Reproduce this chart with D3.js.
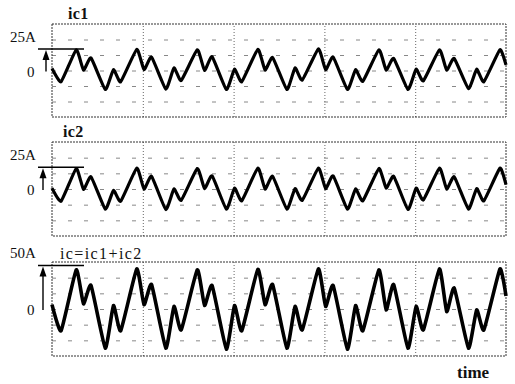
<!DOCTYPE html>
<html>
<head>
<meta charset="utf-8">
<script src="https://cdn.jsdelivr.net/npm/d3@7"></script>
<style>
  body { margin: 0; background: #fff; }
  svg { display: block; }
</style>
</head>
<body>
<svg id="chart" width="515" height="384"></svg>
<script>
// waveform vertices; time in ms (20 ms per cycle, 30 ms/div)
const tPts = [0, 3,
  8, 10.4, 12.9, 17.6, 20.3, 22.7,
  28, 30.4, 32.9, 37.6, 40.3, 42.7,
  48, 50.4, 52.9, 57.6, 60.3, 62.7,
  68, 70.4, 72.9, 77.6, 80.3, 82.7,
  88, 90.4, 92.9, 97.6, 100.3, 102.7,
  108, 110.4, 112.9, 117.6, 120.3, 122.7,
  128, 130.4, 132.9, 137.6, 140.3, 142.7,
  148, 150];

// currents in A
const ic1 = [2.5, -13,
  24, 0.5, 14.5, -22, 1, -13,
  24.5, 1, 15.5, -21.5, 3, -11.5,
  24, 0, 16, -22, 1.5, -13,
  24.5, 0.5, 15, -22, 3, -11,
  25, 1, 15.5, -22, 1, -12.5,
  24, 0.5, 14, -22, 1.5, -12,
  24, 0.5, 14, -21, 1.5, -13,
  24, 6.5];

const ic2 = [1, -14,
  23.5, -0.5, 14, -23, -1.5, -14,
  24, 0, 14.5, -23.5, 0, -13,
  23.5, 0.5, 15, -23, 1, -13.5,
  24, 0, 14.5, -23, 0.5, -13,
  24, 0.5, 15, -23, 0, -13.5,
  23.5, 1, 14.5, -23.5, 1, -12.5,
  24, 0, 14, -23, 0.5, -13.5,
  24, 5];

const ic = [5, -25,
  45, 6, 27, -45, 4, -25,
  46, 5, 28, -45, 3, -24,
  45, 4, 27, -46, 4, -25,
  45.5, 5, 28, -45, 3, -24,
  46, 3, 27, -46, 4, -25,
  45, -1, 28, -45, 3, -24,
  46, -3, 24, -45, -1, -24,
  46, 15];

const panelNames = ['ic1', 'ic2', 'ic=ic1+ic2'];
const markValues = [25, 25, 50];
const markLabels = ['25A', '25A', '50A'];
const timeGrid = [30, 60, 90, 120];
const ampGrid = [-36, -18, 0, 18, 36];

const serif = '"Liberation Serif"';
const svg = d3.select('#chart');
const left = 52, right = 506;
const panels = [
  { top: 24, height: 93, data: ic1 },
  { top: 142, height: 94, data: ic2 },
  { top: 262, height: 94, data: ic }
];

const x = d3.scaleLinear().domain([0, 150]).range([left, right]);

panels.forEach((p, i) => {
  const y = d3.scaleLinear().domain([-54, 54]).range([p.top + p.height, p.top]);
  const g = svg.append('g');

  // vertical grid
  g.append('g')
    .attr('transform', `translate(0,${p.top + p.height})`)
    .call(d3.axisBottom(x).tickValues(timeGrid).tickSize(-p.height).tickFormat(''))
    .call(a => a.select('.domain').remove())
    .selectAll('line')
    .attr('stroke', '#666')
    .attr('stroke-dasharray', '1,2');

  // horizontal grid
  g.append('g')
    .attr('transform', `translate(${left},0)`)
    .call(d3.axisLeft(y).tickValues(ampGrid).tickSize(-(right - left)).tickFormat(''))
    .call(a => a.select('.domain').remove())
    .selectAll('line')
    .attr('stroke', '#888')
    .attr('stroke-dasharray', '4,12');

  // frame
  g.append('rect')
    .attr('x', left).attr('y', p.top)
    .attr('width', right - left).attr('height', p.height)
    .attr('fill', 'none')
    .attr('stroke', '#333')
    .attr('stroke-dasharray', '2,1');

  // trace
  const line = d3.line()
    .x((d, j) => x(tPts[j]))
    .y(d => y(d))
    .curve(d3.curveCardinal.tension(0.55));

  g.append('path')
    .datum(p.data)
    .attr('d', line)
    .attr('fill', 'none')
    .attr('stroke', '#000')
    .attr('stroke-width', i === 2 ? 3.6 : 3.2)
    .attr('stroke-linejoin', 'round');

  // scale marker: level line + arrow from 0
  const ym = y(markValues[i]), y0 = y(0);
  const ax = i === 0 ? 46 : 43;
  g.append('line')
    .attr('x1', 38).attr('x2', 84)
    .attr('y1', ym).attr('y2', ym)
    .attr('stroke', '#000').attr('stroke-width', 1.6);
  g.append('line')
    .attr('x1', ax).attr('x2', ax)
    .attr('y1', y0 + 1).attr('y2', ym + 8)
    .attr('stroke', '#000').attr('stroke-width', 1.4);
  g.append('path')
    .attr('d', `M${ax},${ym + 1}L${ax - 3.5},${ym + 11}L${ax + 3.5},${ym + 11}Z`)
    .attr('fill', '#000');

  g.append('text')
    .attr('x', 10).attr('y', ym - 7)
    .style('font-family', serif)
    .attr('font-size', 15)
    .attr('fill', '#111')
    .text(markLabels[i]);
  g.append('text')
    .attr('x', 27).attr('y', y0 + 6)
    .style('font-family', serif)
    .attr('font-size', 15)
    .attr('fill', '#111')
    .text('0');

  g.append('text')
    .attr('x', i === 2 ? 60 : (i === 0 ? 68 : 63))
    .attr('y', i === 2 ? p.top - 3 : p.top - 5)
    .style('font-family', serif)
    .attr('font-size', 16)
    .attr('letter-spacing', i === 2 ? 1.4 : 0.3)
    .attr('font-weight', i === 2 ? 'normal' : 'bold')
    .attr('fill', '#111')
    .text(panelNames[i]);
});

svg.append('text')
  .attr('x', 457).attr('y', 378)
  .style('font-family', serif)
  .attr('font-size', 17)
  .attr('font-weight', 'bold')
  .attr('fill', '#111')
  .text('time');
</script>
</body>
</html>
